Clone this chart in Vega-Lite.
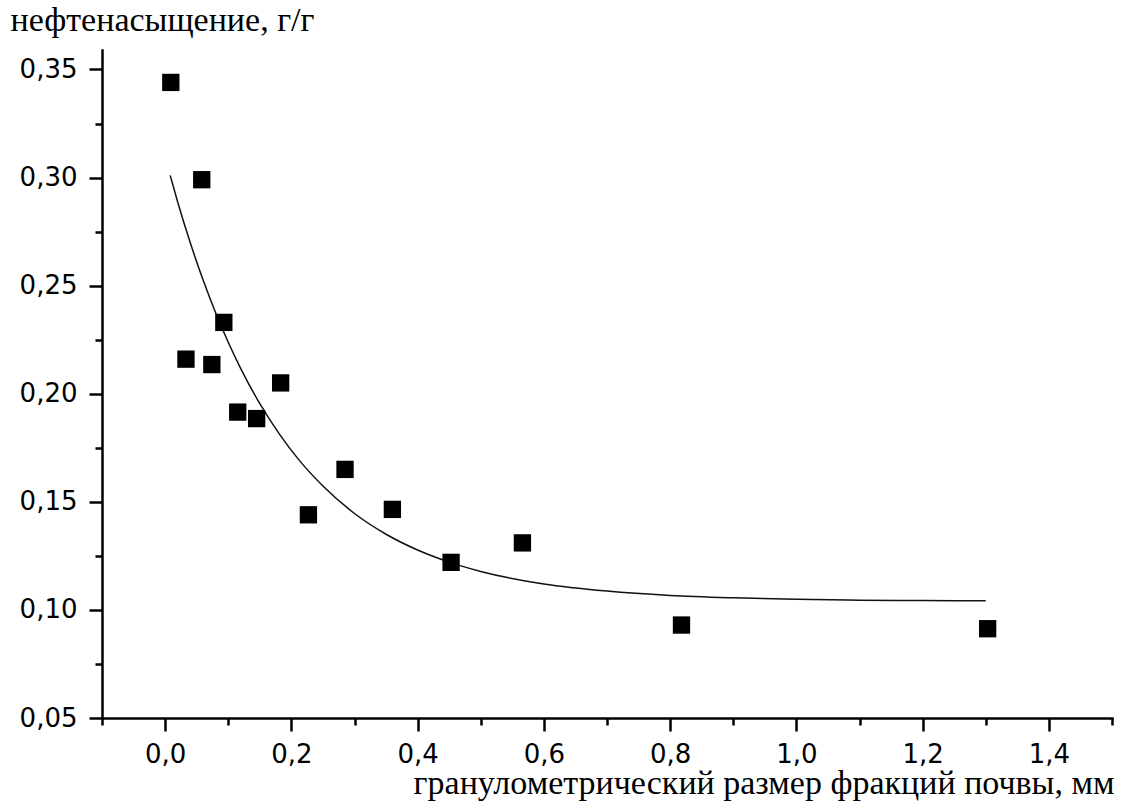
{
  "$schema": "https://vega.github.io/schema/vega-lite/v6.json",
  "autosize": "none",
  "width": 1010,
  "height": 668,
  "padding": {"left": 102, "top": 50, "right": 10, "bottom": 84},
  "background": "white",
  "config": {
    "view": {"stroke": null},
    "axis": {
      "grid": false,
      "domainColor": "#000",
      "tickColor": "#000",
      "labelColor": "#000",
      "titleColor": "#000",
      "labelFont": "DejaVu Sans",
      "labelFontSize": 26,
      "titleFont": "Liberation Serif",
      "titleFontSize": 34,
      "titleFontWeight": "normal",
      "domainWidth": 2.5,
      "tickWidth": 2.5,
      "domainCap": "square"
    }
  },
  "datasets": {
    "pts": [
      {"size_mm": 0.009, "oil": 0.344},
      {"size_mm": 0.058, "oil": 0.299},
      {"size_mm": 0.033, "oil": 0.216},
      {"size_mm": 0.074, "oil": 0.2135},
      {"size_mm": 0.093, "oil": 0.233},
      {"size_mm": 0.115, "oil": 0.1915},
      {"size_mm": 0.145, "oil": 0.1885},
      {"size_mm": 0.183, "oil": 0.205},
      {"size_mm": 0.227, "oil": 0.144},
      {"size_mm": 0.285, "oil": 0.165},
      {"size_mm": 0.360, "oil": 0.1465},
      {"size_mm": 0.453, "oil": 0.122},
      {"size_mm": 0.566, "oil": 0.131},
      {"size_mm": 0.818, "oil": 0.093},
      {"size_mm": 1.303, "oil": 0.0913}
    ],
    "fit": [
      {"size_mm": 0.008, "oil": 0.3010},
      {"size_mm": 0.02, "oil": 0.2886},
      {"size_mm": 0.04, "oil": 0.2697},
      {"size_mm": 0.06, "oil": 0.2527},
      {"size_mm": 0.08, "oil": 0.2375},
      {"size_mm": 0.10, "oil": 0.2238},
      {"size_mm": 0.12, "oil": 0.2115},
      {"size_mm": 0.15, "oil": 0.1954},
      {"size_mm": 0.18, "oil": 0.1818},
      {"size_mm": 0.21, "oil": 0.1701},
      {"size_mm": 0.25, "oil": 0.1573},
      {"size_mm": 0.30, "oil": 0.1446},
      {"size_mm": 0.35, "oil": 0.1350},
      {"size_mm": 0.40, "oil": 0.1277},
      {"size_mm": 0.45, "oil": 0.1221},
      {"size_mm": 0.50, "oil": 0.1178},
      {"size_mm": 0.60, "oil": 0.1120},
      {"size_mm": 0.70, "oil": 0.1087},
      {"size_mm": 0.80, "oil": 0.1067},
      {"size_mm": 0.90, "oil": 0.1056},
      {"size_mm": 1.00, "oil": 0.1049},
      {"size_mm": 1.10, "oil": 0.1045},
      {"size_mm": 1.20, "oil": 0.1043},
      {"size_mm": 1.30, "oil": 0.1042}
    ]
  },
  "layer": [
    {
      "data": {"name": "fit"},
      "mark": {"type": "line", "color": "#111", "strokeWidth": 1.5, "interpolate": "monotone"},
      "encoding": {
        "x": {
          "field": "size_mm", "type": "quantitative",
          "scale": {"domain": [-0.1, 1.5], "nice": false, "zero": false},
          "axis": {
            "orient": "bottom",
            "values": [-0.1, 0.1, 0.3, 0.5, 0.7, 0.9, 1.1, 1.3, 1.5],
            "labels": false, "domain": false, "tickSize": 7, "title": null
          }
        },
        "y": {
          "field": "oil", "type": "quantitative",
          "scale": {"domain": [0.05, 0.359], "nice": false, "zero": false},
          "axis": {
            "orient": "left",
            "values": [0.075, 0.125, 0.175, 0.225, 0.275, 0.325],
            "labels": false, "domain": false, "tickSize": 7, "title": null
          }
        }
      }
    },
    {
      "data": {"name": "pts"},
      "mark": {"type": "point", "shape": "square", "filled": true, "color": "#000", "opacity": 1, "size": 300, "strokeWidth": 0},
      "encoding": {
        "x": {
          "field": "size_mm", "type": "quantitative",
          "axis": {
            "orient": "bottom",
            "values": [0, 0.2, 0.4, 0.6, 0.8, 1.0, 1.2, 1.4],
            "labelExpr": "replace(format(datum.value, '.1f'), '.', ',')",
            "tickSize": 13,
            "labelPadding": 10,
            "title": "гранулометрический размер фракций почвы, мм",
            "titleAnchor": null,
            "titleAlign": "right",
            "titleX": 1012,
            "titleY": 75,
            "titleBaseline": "alphabetic"
          }
        },
        "y": {
          "field": "oil", "type": "quantitative",
          "axis": {
            "orient": "left",
            "values": [0.05, 0.10, 0.15, 0.20, 0.25, 0.30, 0.35],
            "labelExpr": "replace(format(datum.value, '.2f'), '.', ',')",
            "tickSize": 13,
            "labelPadding": 12,
            "title": "нефтенасыщение, г/г",
            "titleAngle": 0,
            "titleAlign": "left",
            "titleAnchor": null,
            "titleX": -92,
            "titleY": -20,
            "titleBaseline": "alphabetic"
          }
        }
      }
    }
  ],
  "resolve": {"axis": {"x": "independent", "y": "independent"}}
}
